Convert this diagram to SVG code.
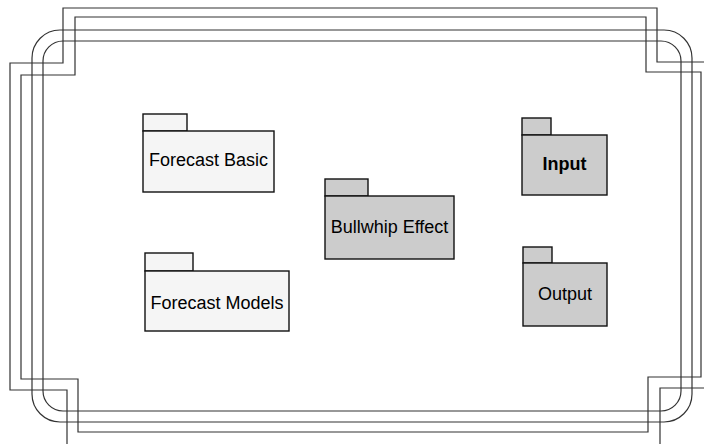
<svg xmlns="http://www.w3.org/2000/svg" width="704" height="444" viewBox="0 0 704 444">
  <style>
    .frame { fill: none; stroke: #333; stroke-width: 1.2; }
    .pkg { stroke: #111; stroke-width: 1.4; }
    .light { fill: #f5f5f5; }
    .dark { fill: #cccccc; }
    .label { font-family: "Liberation Sans", Arial, sans-serif; font-size: 18px; fill: #000; text-anchor: middle; }
    .bold { font-weight: bold; }
  </style>
  <rect width="704" height="444" fill="#fff"/>

  <!-- system boundary: two notched outlines and two rounded outlines -->
  <g id="boundary">
    <path class="frame" d="M63,8 H657 V62 H710 V388 H660 V450 H67 V390 H10 V63 H63 Z"/>
    <path class="frame" d="M75,17 H646 V72 H701 V377 H648 V432 H78 V379 H21 V75 H75 Z"/>
    <rect class="frame" x="32" y="30" width="660" height="392" rx="28" ry="28"/>
    <rect class="frame" x="43" y="41" width="638" height="370" rx="20" ry="20"/>
  </g>

  <g id="forecast-basic">
    <rect class="pkg light" x="143" y="114" width="44" height="17"/>
    <rect class="pkg light" x="143" y="131" width="131" height="61"/>
    <text class="label" x="208.5" y="166">Forecast Basic</text>
  </g>

  <g id="forecast-models">
    <rect class="pkg light" x="145" y="253" width="48" height="18"/>
    <rect class="pkg light" x="145" y="271" width="144" height="60"/>
    <text class="label" x="217" y="309">Forecast Models</text>
  </g>

  <g id="bullwhip-effect">
    <rect class="pkg dark" x="325" y="179" width="43" height="17"/>
    <rect class="pkg dark" x="325" y="196" width="129" height="63"/>
    <text class="label" x="389.5" y="233">Bullwhip Effect</text>
  </g>

  <g id="input">
    <rect class="pkg dark" x="522" y="118" width="29" height="17"/>
    <rect class="pkg dark" x="522" y="135" width="85" height="60"/>
    <text class="label bold" x="564.5" y="170">Input</text>
  </g>

  <g id="output">
    <rect class="pkg dark" x="523" y="247" width="29" height="16"/>
    <rect class="pkg dark" x="523" y="263" width="84" height="63"/>
    <text class="label" x="565" y="300">Output</text>
  </g>
</svg>
